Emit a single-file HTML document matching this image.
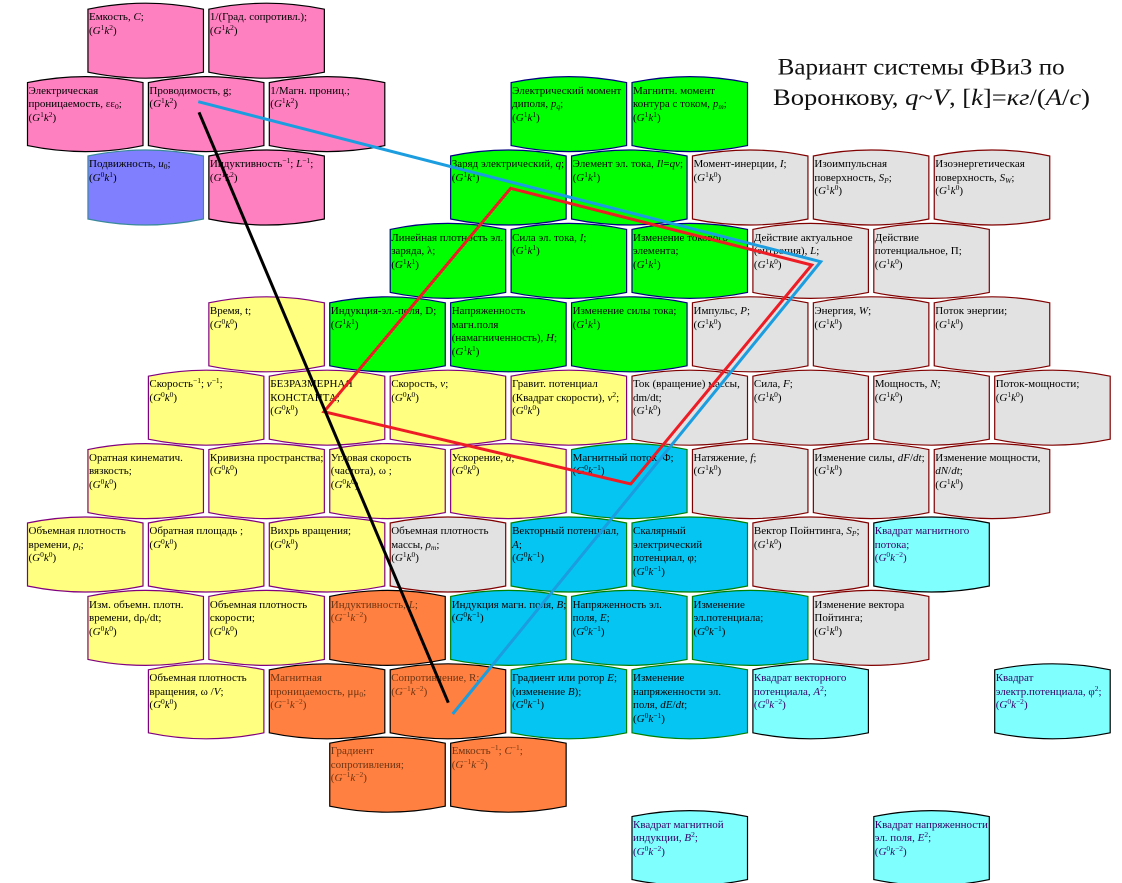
<!DOCTYPE html>
<html><head><meta charset="utf-8">
<style>
html,body{margin:0;padding:0;background:#fff}
#w{position:relative;width:1122px;height:883px;overflow:hidden;background:#fff}
svg{position:absolute;left:0;top:0}
.pk{fill:#FF80C0;stroke:#000}
.vi{fill:#8080FF;stroke:#3a8a9a}
.gn{fill:#00FF00;stroke:#000080}
.gy{fill:#E2E2E2;stroke:#800000}
.yl{fill:#FFFF80;stroke:#800080}
.cy{fill:#05C6F2;stroke:#008000}
.or{fill:#FF8040;stroke:#000}
.lc{fill:#80FFFF;stroke:#000}
use{stroke-width:1.2}
.c{position:absolute;font:11px/13.5px "Liberation Serif","DejaVu Serif",serif;white-space:nowrap;color:#000}
.c.o{color:#6e3514}
.c.l{color:#330066}
.c sup{font-size:7.5px;vertical-align:0;position:relative;top:-4px;line-height:0}
.c sub{font-size:7.5px;vertical-align:0;position:relative;top:2px;line-height:0}
</style></head><body><div id="w">
<svg width="1122" height="883" viewBox="0 0 1122 883">
<defs><path id="h" d="M0,0Q57.75,-12 115.5,0L115.5,63Q57.75,75 0,63Z"/></defs>
<!-- r0 -->
<use href="#h" class="pk" x="87.95" y="9.2"/>
<use href="#h" class="pk" x="208.85" y="9.2"/>
<!-- r1 -->
<use href="#h" class="pk" x="27.5" y="82.6"/>
<use href="#h" class="pk" x="148.4" y="82.6"/>
<use href="#h" class="pk" x="269.3" y="82.6"/>
<use href="#h" class="gn" x="511.1" y="82.6"/>
<use href="#h" class="gn" x="632" y="82.6"/>
<!-- r2 -->
<use href="#h" class="vi" x="87.95" y="156"/>
<use href="#h" class="pk" x="208.85" y="156"/>
<use href="#h" class="gn" x="450.65" y="156"/>
<use href="#h" class="gn" x="571.55" y="156"/>
<use href="#h" class="gy" x="692.45" y="156"/>
<use href="#h" class="gy" x="813.35" y="156"/>
<use href="#h" class="gy" x="934.25" y="156"/>
<!-- r3 -->
<use href="#h" class="gn" x="390.2" y="229.4"/>
<use href="#h" class="gn" x="511.1" y="229.4"/>
<use href="#h" class="gn" x="632" y="229.4"/>
<use href="#h" class="gy" x="752.9" y="229.4"/>
<use href="#h" class="gy" x="873.8" y="229.4"/>
<!-- r4 -->
<use href="#h" class="yl" x="208.85" y="302.8"/>
<use href="#h" class="gn" x="329.75" y="302.8"/>
<use href="#h" class="gn" x="450.65" y="302.8"/>
<use href="#h" class="gn" x="571.55" y="302.8"/>
<use href="#h" class="gy" x="692.45" y="302.8"/>
<use href="#h" class="gy" x="813.35" y="302.8"/>
<use href="#h" class="gy" x="934.25" y="302.8"/>
<!-- r5 -->
<use href="#h" class="yl" x="148.4" y="376.2"/>
<use href="#h" class="yl" x="269.3" y="376.2"/>
<use href="#h" class="yl" x="390.2" y="376.2"/>
<use href="#h" class="yl" x="511.1" y="376.2"/>
<use href="#h" class="gy" x="632" y="376.2"/>
<use href="#h" class="gy" x="752.9" y="376.2"/>
<use href="#h" class="gy" x="873.8" y="376.2"/>
<use href="#h" class="gy" x="994.7" y="376.2"/>
<!-- r6 -->
<use href="#h" class="yl" x="87.95" y="449.6"/>
<use href="#h" class="yl" x="208.85" y="449.6"/>
<use href="#h" class="yl" x="329.75" y="449.6"/>
<use href="#h" class="yl" x="450.65" y="449.6"/>
<use href="#h" class="cy" x="571.55" y="449.6"/>
<use href="#h" class="gy" x="692.45" y="449.6"/>
<use href="#h" class="gy" x="813.35" y="449.6"/>
<use href="#h" class="gy" x="934.25" y="449.6"/>
<!-- r7 -->
<use href="#h" class="yl" x="27.5" y="523"/>
<use href="#h" class="yl" x="148.4" y="523"/>
<use href="#h" class="yl" x="269.3" y="523"/>
<use href="#h" class="gy" x="390.2" y="523"/>
<use href="#h" class="cy" x="511.1" y="523"/>
<use href="#h" class="cy" x="632" y="523"/>
<use href="#h" class="gy" x="752.9" y="523"/>
<use href="#h" class="lc" x="873.8" y="523"/>
<!-- r8 -->
<use href="#h" class="yl" x="87.95" y="596.4"/>
<use href="#h" class="yl" x="208.85" y="596.4"/>
<use href="#h" class="or" x="329.75" y="596.4"/>
<use href="#h" class="cy" x="450.65" y="596.4"/>
<use href="#h" class="cy" x="571.55" y="596.4"/>
<use href="#h" class="cy" x="692.45" y="596.4"/>
<use href="#h" class="gy" x="813.35" y="596.4"/>
<!-- r9 -->
<use href="#h" class="yl" x="148.4" y="669.8"/>
<use href="#h" class="or" x="269.3" y="669.8"/>
<use href="#h" class="or" x="390.2" y="669.8"/>
<use href="#h" class="cy" x="511.1" y="669.8"/>
<use href="#h" class="cy" x="632" y="669.8"/>
<use href="#h" class="lc" x="752.9" y="669.8"/>
<use href="#h" class="lc" x="994.7" y="669.8"/>
<!-- r10 -->
<use href="#h" class="or" x="329.75" y="743.2"/>
<use href="#h" class="or" x="450.65" y="743.2"/>
<!-- r11 -->
<use href="#h" class="lc" x="632" y="816.6"/>
<use href="#h" class="lc" x="873.8" y="816.6"/>

<text font-family="Liberation Serif, serif" font-size="23" fill="#111" x="777.7" y="74.3" textLength="287" lengthAdjust="spacingAndGlyphs">Вариант системы ФВиЗ по</text>
<text font-family="Liberation Serif, serif" font-size="23" fill="#111" x="773" y="105" textLength="317" lengthAdjust="spacingAndGlyphs">Воронкову, <tspan font-style="italic">q</tspan>~<tspan font-style="italic">V</tspan>, [<tspan font-style="italic">k</tspan>]=<tspan font-style="italic">кг</tspan>/(<tspan font-style="italic">A</tspan>/<tspan font-style="italic">c</tspan>)</text>
</svg>

<!-- r0 -->
<div class="c" style="left:89px;top:11.4px">Емкость, <i>C</i>;<br>(<i>G</i><sup>1</sup><i>k</i><sup>2</sup>)</div>
<div class="c" style="left:209.9px;top:11.4px">1/(Град. сопротивл.);<br>(<i>G</i><sup>1</sup><i>k</i><sup>2</sup>)</div>
<!-- r1 -->
<div class="c" style="left:28.5px;top:84.8px">Электрическая<br>проницаемость, εε<sub>0</sub>;<br>(<i>G</i><sup>1</sup><i>k</i><sup>2</sup>)</div>
<div class="c" style="left:149.4px;top:84.8px">Проводимость, g;<br>(<i>G</i><sup>1</sup><i>k</i><sup>2</sup>)</div>
<div class="c" style="left:270.3px;top:84.8px">1/Магн. прониц.;<br>(<i>G</i><sup>1</sup><i>k</i><sup>2</sup>)</div>
<div class="c" style="left:512.1px;top:84.8px">Электрический момент<br>диполя, <i>p<sub>q</sub></i>;<br>(<i>G</i><sup>1</sup><i>k</i><sup>1</sup>)</div>
<div class="c" style="left:633px;top:84.8px">Магнитн. момент<br>контура с током, <i>p<sub>m</sub></i>;<br>(<i>G</i><sup>1</sup><i>k</i><sup>1</sup>)</div>
<!-- r2 -->
<div class="c" style="left:89px;top:158.2px">Подвижность, <i>u</i><sub>0</sub>;<br>(<i>G</i><sup>0</sup><i>k</i><sup>1</sup>)</div>
<div class="c" style="left:209.9px;top:158.2px">Индуктивность<sup>−1</sup>; <i>L</i><sup>−1</sup>;<br>(<i>G</i><sup>1</sup><i>k</i><sup>2</sup>)</div>
<div class="c" style="left:451.7px;top:158.2px">Заряд электрический, <i>q</i>;<br>(<i>G</i><sup>1</sup><i>k</i><sup>1</sup>)</div>
<div class="c" style="left:572.6px;top:158.2px">Элемент эл. тока, <i>Il</i>=<i>qv</i>;<br>(<i>G</i><sup>1</sup><i>k</i><sup>1</sup>)</div>
<div class="c" style="left:693.5px;top:158.2px">Момент-инерции, <i>I</i>;<br>(<i>G</i><sup>1</sup><i>k</i><sup>0</sup>)</div>
<div class="c" style="left:814.4px;top:158.2px">Изоимпульсная<br>поверхность, <i>S<sub>P</sub></i>;<br>(<i>G</i><sup>1</sup><i>k</i><sup>0</sup>)</div>
<div class="c" style="left:935.3px;top:158.2px">Изоэнергетическая<br>поверхность, <i>S<sub>W</sub></i>;<br>(<i>G</i><sup>1</sup><i>k</i><sup>0</sup>)</div>
<!-- r3 -->
<div class="c" style="left:391.2px;top:231.6px">Линейная плотность эл.<br>заряда, λ;<br>(<i>G</i><sup>1</sup><i>k</i><sup>1</sup>)</div>
<div class="c" style="left:512.1px;top:231.6px">Сила эл. тока, <i>I</i>;<br>(<i>G</i><sup>1</sup><i>k</i><sup>1</sup>)</div>
<div class="c" style="left:633px;top:231.6px">Изменение токового<br>элемента;<br>(<i>G</i><sup>1</sup><i>k</i><sup>1</sup>)</div>
<div class="c" style="left:753.9px;top:231.6px">Действие актуальное<br>(энтропия), <i>L</i>;<br>(<i>G</i><sup>1</sup><i>k</i><sup>0</sup>)</div>
<div class="c" style="left:874.8px;top:231.6px">Действие<br>потенциальное, П;<br>(<i>G</i><sup>1</sup><i>k</i><sup>0</sup>)</div>
<!-- r4 -->
<div class="c" style="left:209.9px;top:305px">Время, t;<br>(<i>G</i><sup>0</sup><i>k</i><sup>0</sup>)</div>
<div class="c" style="left:330.8px;top:305px">Индукция-эл.-поля, D;<br>(<i>G</i><sup>1</sup><i>k</i><sup>1</sup>)</div>
<div class="c" style="left:451.7px;top:305px">Напряженность<br>магн.поля<br>(намагниченность), <i>H</i>;<br>(<i>G</i><sup>1</sup><i>k</i><sup>1</sup>)</div>
<div class="c" style="left:572.6px;top:305px">Изменение силы тока;<br>(<i>G</i><sup>1</sup><i>k</i><sup>1</sup>)</div>
<div class="c" style="left:693.5px;top:305px">Импульс, <i>P</i>;<br>(<i>G</i><sup>1</sup><i>k</i><sup>0</sup>)</div>
<div class="c" style="left:814.4px;top:305px">Энергия, <i>W</i>;<br>(<i>G</i><sup>1</sup><i>k</i><sup>0</sup>)</div>
<div class="c" style="left:935.3px;top:305px">Поток энергии;<br>(<i>G</i><sup>1</sup><i>k</i><sup>0</sup>)</div>
<!-- r5 -->
<div class="c" style="left:149.4px;top:378.4px">Скорость<sup>−1</sup>; <i>v</i><sup>−1</sup>;<br>(<i>G</i><sup>0</sup><i>k</i><sup>0</sup>)</div>
<div class="c" style="left:270.3px;top:378.4px">БЕЗРАЗМЕРНАЯ<br>КОНСТАНТА;<br>(<i>G</i><sup>0</sup><i>k</i><sup>0</sup>)</div>
<div class="c" style="left:391.2px;top:378.4px">Скорость, <i>v</i>;<br>(<i>G</i><sup>0</sup><i>k</i><sup>0</sup>)</div>
<div class="c" style="left:512.1px;top:378.4px">Гравит. потенциал<br>(Квадрат скорости), <i>v</i><sup>2</sup>;<br>(<i>G</i><sup>0</sup><i>k</i><sup>0</sup>)</div>
<div class="c" style="left:633px;top:378.4px">Ток (вращение) массы,<br>dm/dt;<br>(<i>G</i><sup>1</sup><i>k</i><sup>0</sup>)</div>
<div class="c" style="left:753.9px;top:378.4px">Сила, <i>F</i>;<br>(<i>G</i><sup>1</sup><i>k</i><sup>0</sup>)</div>
<div class="c" style="left:874.8px;top:378.4px">Мощность, <i>N</i>;<br>(<i>G</i><sup>1</sup><i>k</i><sup>0</sup>)</div>
<div class="c" style="left:995.7px;top:378.4px">Поток-мощности;<br>(<i>G</i><sup>1</sup><i>k</i><sup>0</sup>)</div>
<!-- r6 -->
<div class="c" style="left:89px;top:451.8px">Оратная кинематич.<br>вязкость;<br>(<i>G</i><sup>0</sup><i>k</i><sup>0</sup>)</div>
<div class="c" style="left:209.9px;top:451.8px">Кривизна пространства;<br>(<i>G</i><sup>0</sup><i>k</i><sup>0</sup>)</div>
<div class="c" style="left:330.8px;top:451.8px">Угловая скорость<br>(частота), ω ;<br>(<i>G</i><sup>0</sup><i>k</i><sup>0</sup>)</div>
<div class="c" style="left:451.7px;top:451.8px">Ускорение, <i>a</i>;<br>(<i>G</i><sup>0</sup><i>k</i><sup>0</sup>)</div>
<div class="c" style="left:572.6px;top:451.8px">Магнитный поток, Φ;<br>(<i>G</i><sup>0</sup><i>k</i><sup>−1</sup>)</div>
<div class="c" style="left:693.5px;top:451.8px">Натяжение, <i>f</i>;<br>(<i>G</i><sup>1</sup><i>k</i><sup>0</sup>)</div>
<div class="c" style="left:814.4px;top:451.8px">Изменение силы, <i>dF</i>/<i>dt</i>;<br>(<i>G</i><sup>1</sup><i>k</i><sup>0</sup>)</div>
<div class="c" style="left:935.3px;top:451.8px">Изменение мощности,<br><i>dN</i>/<i>dt</i>;<br>(<i>G</i><sup>1</sup><i>k</i><sup>0</sup>)</div>
<!-- r7 -->
<div class="c" style="left:28.5px;top:525.2px">Объемная плотность<br>времени, <i>ρ<sub>t</sub></i>;<br>(<i>G</i><sup>0</sup><i>k</i><sup>0</sup>)</div>
<div class="c" style="left:149.4px;top:525.2px">Обратная площадь ;<br>(<i>G</i><sup>0</sup><i>k</i><sup>0</sup>)</div>
<div class="c" style="left:270.3px;top:525.2px">Вихрь вращения;<br>(<i>G</i><sup>0</sup><i>k</i><sup>0</sup>)</div>
<div class="c" style="left:391.2px;top:525.2px">Объемная плотность<br>массы, <i>ρ<sub>m</sub></i>;<br>(<i>G</i><sup>1</sup><i>k</i><sup>0</sup>)</div>
<div class="c" style="left:512.1px;top:525.2px">Векторный потенциал,<br><i>A</i>;<br>(<i>G</i><sup>0</sup><i>k</i><sup>−1</sup>)</div>
<div class="c" style="left:633px;top:525.2px">Скалярный<br>электрический<br>потенциал, φ;<br>(<i>G</i><sup>0</sup><i>k</i><sup>−1</sup>)</div>
<div class="c" style="left:753.9px;top:525.2px">Вектор Пойнтинга, <i>S<sub>P</sub></i>;<br>(<i>G</i><sup>1</sup><i>k</i><sup>0</sup>)</div>
<div class="c l" style="left:874.8px;top:525.2px">Квадрат магнитного<br>потока;<br>(<i>G</i><sup>0</sup><i>k</i><sup>−2</sup>)</div>
<!-- r8 -->
<div class="c" style="left:89px;top:598.6px">Изм. объемн. плотн.<br>времени, dρ<sub>t</sub>/dt;<br>(<i>G</i><sup>0</sup><i>k</i><sup>0</sup>)</div>
<div class="c" style="left:209.9px;top:598.6px">Объемная плотность<br>скорости;<br>(<i>G</i><sup>0</sup><i>k</i><sup>0</sup>)</div>
<div class="c o" style="left:330.8px;top:598.6px">Индуктивность, <i>L</i>;<br>(<i>G</i><sup>−1</sup><i>k</i><sup>−2</sup>)</div>
<div class="c" style="left:451.7px;top:598.6px">Индукция магн. поля, <i>B</i>;<br>(<i>G</i><sup>0</sup><i>k</i><sup>−1</sup>)</div>
<div class="c" style="left:572.6px;top:598.6px">Напряженность эл.<br>поля, <i>E</i>;<br>(<i>G</i><sup>0</sup><i>k</i><sup>−1</sup>)</div>
<div class="c" style="left:693.5px;top:598.6px">Изменение<br>эл.потенциала;<br>(<i>G</i><sup>0</sup><i>k</i><sup>−1</sup>)</div>
<div class="c" style="left:814.4px;top:598.6px">Изменение вектора<br>Пойтинга;<br>(<i>G</i><sup>1</sup><i>k</i><sup>0</sup>)</div>
<!-- r9 -->
<div class="c" style="left:149.4px;top:672px">Объемная плотность<br>вращения, ω /<i>V</i>;<br>(<i>G</i><sup>0</sup><i>k</i><sup>0</sup>)</div>
<div class="c o" style="left:270.3px;top:672px">Магнитная<br>проницаемость, μμ<sub>0</sub>;<br>(<i>G</i><sup>−1</sup><i>k</i><sup>−2</sup>)</div>
<div class="c o" style="left:391.2px;top:672px">Сопротивление, R;<br>(<i>G</i><sup>−1</sup><i>k</i><sup>−2</sup>)</div>
<div class="c" style="left:512.1px;top:672px">Градиент или ротор <i>E</i>;<br>(изменение <i>B</i>);<br>(<i>G</i><sup>0</sup><i>k</i><sup>−1</sup>)</div>
<div class="c" style="left:633px;top:672px">Изменение<br>напряженности эл.<br>поля, <i>dE</i>/<i>dt</i>;<br>(<i>G</i><sup>0</sup><i>k</i><sup>−1</sup>)</div>
<div class="c l" style="left:753.9px;top:672px">Квадрат векторного<br>потенциала, <i>A</i><sup>2</sup>;<br>(<i>G</i><sup>0</sup><i>k</i><sup>−2</sup>)</div>
<div class="c l" style="left:995.7px;top:672px">Квадрат<br>электр.потенциала, φ<sup>2</sup>;<br>(<i>G</i><sup>0</sup><i>k</i><sup>−2</sup>)</div>
<!-- r10 -->
<div class="c o" style="left:330.8px;top:745.4px">Градиент<br>сопротивления;<br>(<i>G</i><sup>−1</sup><i>k</i><sup>−2</sup>)</div>
<div class="c o" style="left:451.7px;top:745.4px">Емкость<sup>−1</sup>; <i>C</i><sup>−1</sup>;<br>(<i>G</i><sup>−1</sup><i>k</i><sup>−2</sup>)</div>
<!-- r11 -->
<div class="c l" style="left:633px;top:818.8px">Квадрат магнитной<br>индукции, <i>B</i><sup>2</sup>;<br>(<i>G</i><sup>0</sup><i>k</i><sup>−2</sup>)</div>
<div class="c l" style="left:874.8px;top:818.8px">Квадрат напряженности<br>эл. поля, <i>E</i><sup>2</sup>;<br>(<i>G</i><sup>0</sup><i>k</i><sup>−2</sup>)</div>

<svg width="1122" height="883" viewBox="0 0 1122 883">
<polygon points="510.7,188.3 811.7,265 630.7,484 324,411.7" fill="none" stroke="#EE1C25" stroke-width="3" stroke-linejoin="miter"/>
<polyline points="198.3,101.7 820.7,261.7 452.7,714" fill="none" stroke="#1B9DE0" stroke-width="3"/>
<line x1="199" y1="112.3" x2="448.3" y2="702.7" stroke="#000" stroke-width="3"/>
</svg>
</div></body></html>
